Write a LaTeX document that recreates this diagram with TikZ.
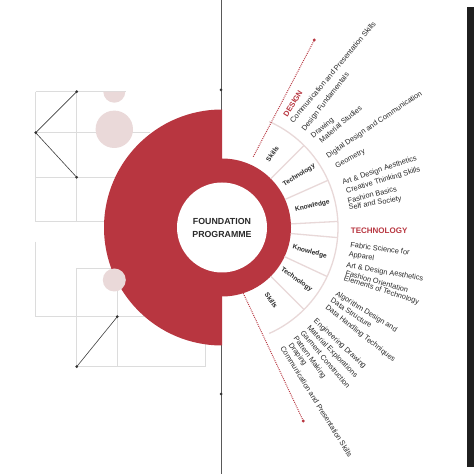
\documentclass[tikz,border=0pt]{standalone}
\usepackage{fontspec}
\setmainfont{Liberation Sans}
\definecolor{fred}{HTML}{B83640}
\definecolor{fpink}{HTML}{EAD9D9}
\definecolor{fseg}{HTML}{E8D8D8}
\definecolor{fgrid}{HTML}{DCDCDC}
\definecolor{ftext}{HTML}{2A2A2A}
\begin{document}
\begin{tikzpicture}[x=1pt,y=1pt,
  grid/.style={draw=fgrid,line width=0.6pt},
  blk/.style={draw=black!75,line width=0.6pt},
  bdot/.style={fill=black!80},
  seg/.style={draw=fseg,line width=1.3pt},
  rdot/.style={draw=fred,line width=1pt,dash pattern=on 0.9pt off 1.1pt},
  item/.style={anchor=base west,inner sep=0pt,font=\fontsize{7.4}{8}\selectfont,text=ftext},
  head/.style={anchor=base west,inner sep=0pt,font=\bfseries\fontsize{7.6}{8}\selectfont,text=fred},
  seglab/.style={inner sep=0pt,font=\bfseries\fontsize{6.6}{7}\selectfont,text=ftext}]
\useasboundingbox (0,0) rectangle (474,474);
\fill[white] (0,0) rectangle (474,474);
\coordinate (C) at (222,246.5);
% grid
\draw[grid] (35.7,382.3)--(35.7,252.3);
\draw[grid] (76.7,382.3)--(76.7,252.3);
\draw[grid] (35.7,382.3)--(126,382.3);
\draw[grid] (35.7,341.3)--(150,341.3);
\draw[grid] (35.7,296.7)--(150,296.7);
\draw[grid] (35.7,252.3)--(150,252.3);
\draw[grid] (35.7,232.3)--(35.7,157.3);
\draw[grid] (76.7,205.7)--(117.3,205.7);
\draw[grid] (35.7,157.3)--(150,157.3);
\draw[grid] (76.7,205.7)--(76.7,107.3);
\draw[grid] (117.3,205.7)--(117.3,107.3);
\draw[grid] (76.7,107.3)--(205,107.3);
\draw[grid] (205,140)--(205,107.3);
% pink circles behind
\fill[fpink] (103.3,382.3) arc[start angle=180,end angle=360,radius=11] -- cycle;
\fill[fpink] (114.3,344.7) circle (18.7);
% black zigzags
\coordinate (p1) at (76.7,382.3);
\coordinate (p2) at (35.7,341.3);
\coordinate (p3) at (76.7,296.7);
\coordinate (p4) at (117.3,157.3);
\coordinate (p5) at (76.7,107.3);
\draw[blk] (p1)--(p2)--(p3);
\draw[blk] (p4)--(p5);
\foreach \p in {p1,p2,p3,p4,p5} \fill[bdot] (\p) circle (1.5);
% vertical axis
\coordinate (vtop) at (221,474);
\coordinate (vbot) at (221,0);
\coordinate (vd1) at (221,384);
\coordinate (vd2) at (221,80);
\draw[black!65,line width=0.5pt] (vtop)--(vbot);
\fill[bdot] (vd1) circle (1.5);
\fill[bdot] (vd2) circle (1.5);
% red shapes
\fill[fred] (C) ++(0,118) arc[start angle=90,end angle=270,radius=118] -- cycle;
\fill[fred] (C) ++(0,-69) arc[start angle=-90,end angle=90,radius=69] -- cycle;
\fill[white] (C) circle (45);
\fill[fpink] (114.3,194) circle (11.5);
% segments
\draw[seg] ([shift={(66:116)}]C) arc[start angle=66,end angle=-66,radius=116];
\foreach \a in {45,24,3,-5,-25,-45}
  \draw[seg] ([shift={(\a:69)}]C) -- ([shift={(\a:116)}]C);
% dotted red lines
\coordinate (u1) at (253.3,317.3);
\coordinate (u2) at (314.3,434);
\coordinate (l1) at (243.3,180.7);
\coordinate (l2) at (303.3,53);
\draw[rdot] (u1)--(u2);
\draw[rdot] (l1)--(l2);
\fill[fred] (u2) circle (1.6);
\fill[fred] (l2) circle (1.6);
% black bar
\fill[black!88] (467,7) rectangle (474,467);
% center
\node[align=center,inner sep=0pt,font=\bfseries\fontsize{8.8}{13}\selectfont,text=ftext] (ctr) at (C) {FOUNDATION\\PROGRAMME};
% segment labels
\node[seglab,rotate=55] (s1) at ([shift={(55.5:89)}]C) {Skills};
\node[seglab,rotate=33] (s2) at ([shift={(34:93)}]C) {Technology};
\node[seglab,rotate=13] (s3) at ([shift={(13.5:93)}]C) {Knowledge};
\node[seglab,rotate=-15] (s4) at ([shift={(-15.5:91)}]C) {Knowledge};
\node[seglab,rotate=-35] (s5) at ([shift={(-35:91)}]C) {Technology};
\node[seglab,rotate=-56] (s6) at ([shift={(-56:88)}]C) {Skills};
% upper list
\node[head,rotate=58] (h1) at (287.3,356.7) {DESIGN};
\node[item,rotate=50] (a1) at (293.3,350.7) {Communication and Presentation Skills};
\node[item,rotate=52] (a2) at (305,342.3) {Design Fundamentals};
\node[item,rotate=40] (a3) at (313.3,335.7) {Drawing};
\node[item,rotate=40] (a4) at (321.7,330.7) {Material Studies};
\node[item,rotate=34] (a5) at (328.3,315.7) {Digital Design and Communication};
\node[item,rotate=28] (a6) at (336.7,305.7) {Geometry};
\node[item,rotate=18.8] (a7) at (343.3,289) {Art \& Design Aesthetics};
\node[item,rotate=16.6] (a8) at (346.7,280.7) {Creative Thinking Skills};
\node[item,rotate=14] (a9) at (348.3,270.7) {Fashion Basics};
\node[item,rotate=10] (a10) at (349,264) {Self and Society};
% technology
\node[head,font=\bfseries\fontsize{8}{9}\selectfont] (h2) at (350.7,240.7) {TECHNOLOGY};
\node[item,rotate=-7.5] (b1) at (350,226.7) {Fabric Science for};
\node[item,rotate=-8] (b2) at (348.3,217.3) {Apparel};
\node[item,rotate=-9.7] (b3) at (346,206.3) {Art \& Design Aesthetics};
\node[item,rotate=-16] (b4) at (345,199) {Fashion Orientation};
\node[item,rotate=-18] (b5) at (343.3,194) {Elements of Technology};
% lower list
\node[item,rotate=-31.6] (c1) at (335,179) {Algorithm Design and};
\node[item,rotate=-33.7] (c2) at (330,172.3) {Data Structure};
\node[item,rotate=-38.3] (c3) at (325,165.7) {Data Handling Techniques};
\node[item,rotate=-43] (c4) at (313.3,152.3) {Engineering Drawing};
\node[item,rotate=-46] (c5) at (306.7,145.7) {Material Explorations};
\node[item,rotate=-50] (c6) at (300,140.7) {Garment Construction};
\node[item,rotate=-54] (c7) at (293.3,135.7) {Pattern Making};
\node[item,rotate=-54] (c8) at (288.3,129) {Draping};
\node[item,rotate=-58] (c9) at (280,125.7) {Communication and Presentation Skills};
\end{tikzpicture}
\end{document}
